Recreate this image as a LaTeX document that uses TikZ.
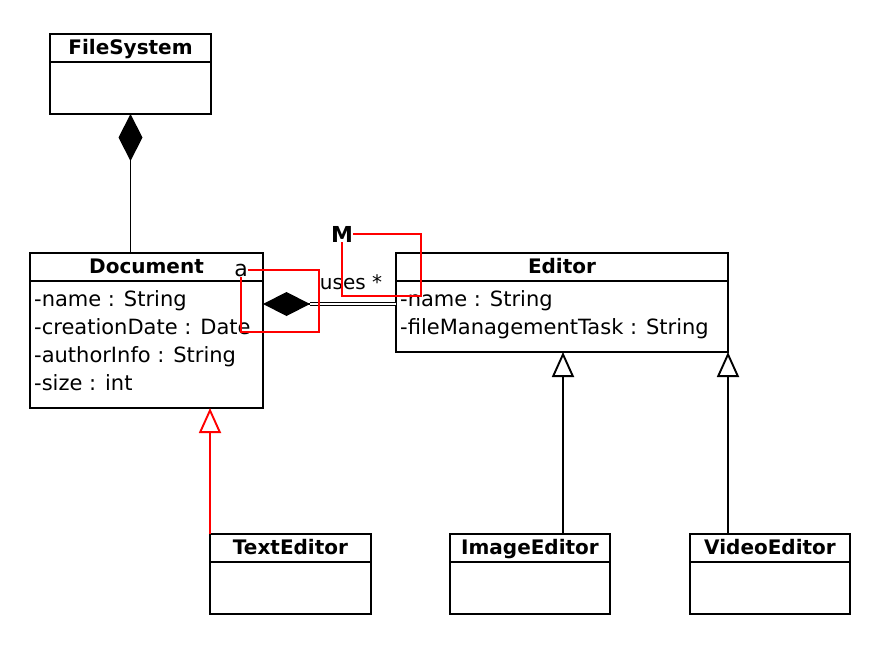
\documentclass[tikz,border=0pt]{standalone}
\usepackage{fontspec}
\setmainfont{DejaVu Sans}
\usetikzlibrary{arrows.meta,positioning}
\tikzset{
  lw/.style={line width=1.9pt},
  hdr/.style={draw, lw, anchor=north west, minimum height=28pt, inner sep=0pt, outer sep=0pt,
    text height=15pt, text depth=2pt,
    font=\fontsize{20}{22}\selectfont\bfseries},
  bodybox/.style={draw, lw, anchor=north, inner sep=0pt, outer sep=0pt},
  attr/.style={anchor=base west, inner sep=0pt, font=\fontsize{21}{24}\selectfont},
  comp/.style={lw, -{Diamond[length=47pt,width=24pt]}},
  inh/.style={lw, -{Triangle[open, length=25pt, width=22pt, fill=white]}},
  redline/.style={draw=red, line width=1.6pt},
}
\begin{document}
\begin{tikzpicture}[x=1pt,y=-1pt]
\useasboundingbox[fill=white] (0,0) rectangle (892,646);

% FileSystem
\node[hdr, minimum width=161pt] (fsH) at (50,34) {FileSystem};
\node[bodybox, minimum width=161pt, minimum height=52pt] (fsB) at (fsH.south) {};

% Document
\node[hdr, minimum width=233pt] (docH) at (30,253) {Document};
\node[bodybox, minimum width=233pt, minimum height=127pt] (docB) at (docH.south) {};
\node[attr] (d1) at (34,306) {-name : String};
\node[attr] (d2) at (34,334) {-creationDate : Date};
\node[attr] (d3) at (34,362) {-authorInfo : String};
\node[attr] (d4) at (34,390) {-size : int};

% Editor
\node[hdr, minimum width=332pt] (edH) at (396,253) {Editor};
\node[bodybox, minimum width=332pt, minimum height=71pt] (edB) at (edH.south) {};
\node[attr] (e1) at (400,306) {-name : String};
\node[attr] (e2) at (400,334) {-fileManagementTask : String};

% Subclasses
\node[hdr, minimum width=161pt] (teH) at (210,534) {TextEditor};
\node[bodybox, minimum width=161pt, minimum height=52pt] (teB) at (teH.south) {};
\node[hdr, minimum width=160pt] (ieH) at (450,534) {ImageEditor};
\node[bodybox, minimum width=160pt, minimum height=52pt] (ieB) at (ieH.south) {};
\node[hdr, minimum width=160pt] (veH) at (690,534) {VideoEditor};
\node[bodybox, minimum width=160pt, minimum height=52pt] (veB) at (veH.south) {};

% FileSystem <>-- Document
\draw[comp] (fsB.south |- docH.north) -- (fsB.south);

% Document <>== Editor
\coordinate (edEnd) at (edB.west |- 0,304);
\coordinate (docEnd) at (docB.east |- 0,304);
\draw[comp] (edEnd) -- (docEnd);
\draw[line width=1.4pt, double=white, double distance=1.2pt, shorten >=47pt] (edEnd) -- (docEnd);
\node[font=\fontsize{20}{22}\selectfont, inner sep=0pt, anchor=base] (uses) at (351,289) {uses *};

% Inheritance
\draw[inh, draw=red] (teH.north west) -- (teH.north west |- docB.south);
\coordinate (ieTop) at (563,534);
\draw[inh] (ieTop) -- (ieTop |- edB.south);
\draw[inh] (edB.south east |- veH.north) -- (edB.south east);

% Red marks
\node[font=\fontsize{22}{24}\selectfont, inner sep=0pt] (lblA) at (241,270) {a};
\node[font=\fontsize{22}{24}\selectfont\bfseries, inner sep=0pt] (lblM) at (342,234) {M};
\coordinate (ra) at (319,332);
\coordinate (rm) at (421,296);
\draw[redline] (lblA.east) -| (ra) -| (lblA.south);
\draw[redline] (lblM.east) -| (rm) -| (lblM.south);
\end{tikzpicture}
\end{document}
